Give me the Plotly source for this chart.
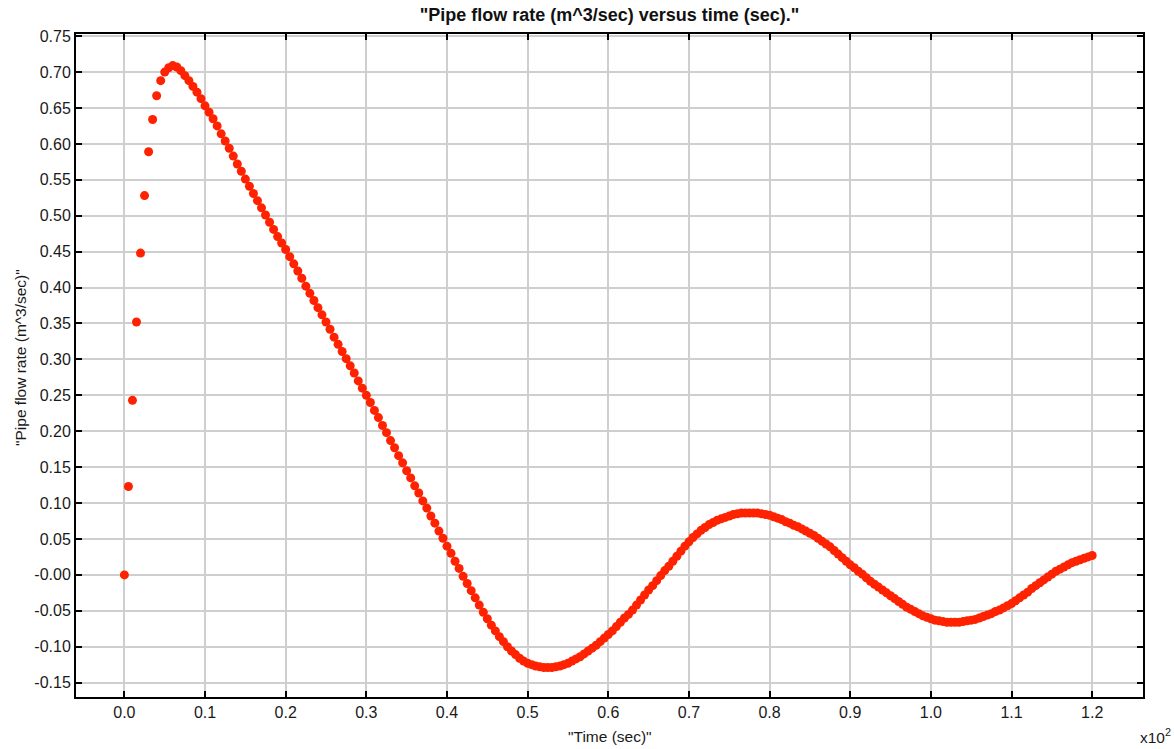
import numpy as np
import plotly.graph_objects as go

# Time in seconds (sampled every 0.5 s), displayed in units of x10^2 s
time_sec = np.arange(0, 120.5, 0.5)

flow_rate = [
    0.000, 0.123, 0.243, 0.352, 0.448, 0.528, 0.589, 0.634, 0.667, 0.688,
    0.700, 0.706, 0.709, 0.707, 0.702, 0.695, 0.688, 0.680, 0.672, 0.663,
    0.653, 0.644, 0.635, 0.625, 0.614, 0.604, 0.594, 0.583, 0.572, 0.562,
    0.551, 0.541, 0.531, 0.521, 0.511, 0.501, 0.491, 0.481, 0.471, 0.462,
    0.453, 0.443, 0.433, 0.423, 0.413, 0.402, 0.392, 0.382, 0.372, 0.362,
    0.352, 0.342, 0.331, 0.321, 0.311, 0.301, 0.291, 0.281, 0.270, 0.260,
    0.250, 0.240, 0.229, 0.219, 0.208, 0.198, 0.187, 0.177, 0.166, 0.156,
    0.145, 0.135, 0.124, 0.114, 0.103, 0.093, 0.082, 0.072, 0.061, 0.051,
    0.040, 0.030, 0.019, 0.009, -0.002, -0.012, -0.022, -0.032, -0.042, -0.052,
    -0.061, -0.070, -0.078, -0.086, -0.093, -0.100, -0.106, -0.111, -0.116, -0.120,
    -0.123, -0.125, -0.127, -0.128, -0.129, -0.129, -0.129, -0.128, -0.127, -0.125,
    -0.123, -0.120, -0.117, -0.114, -0.110, -0.106, -0.102, -0.098, -0.093, -0.088,
    -0.083, -0.078, -0.072, -0.066, -0.060, -0.055, -0.049, -0.042, -0.035, -0.028,
    -0.021, -0.015, -0.008, -0.001, 0.006, 0.012, 0.019, 0.026, 0.033, 0.040,
    0.046, 0.052, 0.057, 0.062, 0.066, 0.070, 0.073, 0.076, 0.078, 0.080,
    0.082, 0.084, 0.085, 0.086, 0.086, 0.086, 0.086, 0.086, 0.085, 0.084,
    0.083, 0.081, 0.079, 0.077, 0.074, 0.072, 0.069, 0.067, 0.064, 0.061,
    0.058, 0.055, 0.051, 0.047, 0.043, 0.039, 0.034, 0.029, 0.024, 0.019,
    0.014, 0.010, 0.005, 0.001, -0.004, -0.009, -0.013, -0.017, -0.021, -0.025,
    -0.029, -0.033, -0.037, -0.041, -0.045, -0.048, -0.051, -0.054, -0.057, -0.059,
    -0.061, -0.063, -0.064, -0.065, -0.066, -0.066, -0.066, -0.066, -0.065, -0.064,
    -0.063, -0.062, -0.060, -0.058, -0.056, -0.054, -0.051, -0.049, -0.046, -0.043,
    -0.040, -0.036, -0.032, -0.028, -0.024, -0.019, -0.015, -0.011, -0.007, -0.003,
    0.001, 0.005, 0.008, 0.011, 0.014, 0.017, 0.019, 0.021, 0.023, 0.025,
    0.027,
]

x_tick_vals = [0.0, 0.1, 0.2, 0.3, 0.4, 0.5, 0.6, 0.7, 0.8, 0.9, 1.0, 1.1, 1.2]
x_tick_text = ["0.0", "0.1", "0.2", "0.3", "0.4", "0.5", "0.6", "0.7", "0.8", "0.9", "1.0", "1.1", "1.2"]
y_tick_vals = [-0.15, -0.10, -0.05, 0.0, 0.05, 0.10, 0.15, 0.20, 0.25, 0.30, 0.35,
               0.40, 0.45, 0.50, 0.55, 0.60, 0.65, 0.70, 0.75]
y_tick_text = ["-0.15", "-0.10", "-0.05", "-0.00", "0.05", "0.10", "0.15", "0.20", "0.25", "0.30", "0.35",
               "0.40", "0.45", "0.50", "0.55", "0.60", "0.65", "0.70", "0.75"]

x_display = time_sec / 100.0

font_family = "Liberation Sans, Arial, Helvetica, sans-serif"

fig = go.Figure()
fig.add_trace(go.Scatter(
    x=x_display, y=flow_rate, mode="markers",
    marker=dict(color="#ff2200", size=9, line=dict(width=0)),
    showlegend=False,
))

axis_common = dict(
    showline=True, linecolor="black", linewidth=2, mirror="ticks",
    ticks="inside", ticklen=6, tickwidth=2, tickcolor="black",
    showgrid=True, gridcolor="#cfcfcf", gridwidth=2, zeroline=False,
    tickfont=dict(family=font_family, size=16, color="#1a1a1a"),
)

fig.update_xaxes(range=[-0.06, 1.263], tickvals=x_tick_vals, ticktext=x_tick_text, **axis_common)
fig.update_yaxes(range=[-0.170, 0.753], tickvals=y_tick_vals, ticktext=y_tick_text, **axis_common)

fig.update_layout(
    width=1174, height=749,
    margin=dict(l=76, r=31, t=34, b=52),
    paper_bgcolor="white", plot_bgcolor="white",
    title=dict(text='"Pipe flow rate (m^3/sec) versus time (sec)."',
               font=dict(family=font_family, size=18, color="#111111", weight="bold"),
               x=0.5, xref="paper", y=1 - 15 / 749, yanchor="middle"),
    annotations=[
        dict(text='"Pipe flow rate (m^3/sec)"', textangle=-90, xref="paper", yref="paper",
             x=(20 - 76) / 1067, y=(697 - 358) / 663, showarrow=False,
             xanchor="center", yanchor="middle",
             font=dict(family=font_family, size=15.5, color="#1a1a1a")),
        dict(text='"Time (sec)"', xref="paper", yref="paper",
             x=(610 - 76) / 1067, y=(697 - 736) / 663, showarrow=False,
             xanchor="center", yanchor="middle",
             font=dict(family=font_family, size=15.5, color="#1a1a1a")),
        dict(text="x10<sup>2</sup>", xref="paper", yref="paper",
             x=(1155 - 76) / 1067, y=(697 - 736) / 663, showarrow=False,
             xanchor="center", yanchor="middle",
             font=dict(family=font_family, size=15.5, color="#1a1a1a")),
    ],
)

fig.write_html(
    "out.html",
    config={"displayModeBar": False},
    post_script="document.body.style.margin='0px';document.body.style.overflow='hidden';",
)
